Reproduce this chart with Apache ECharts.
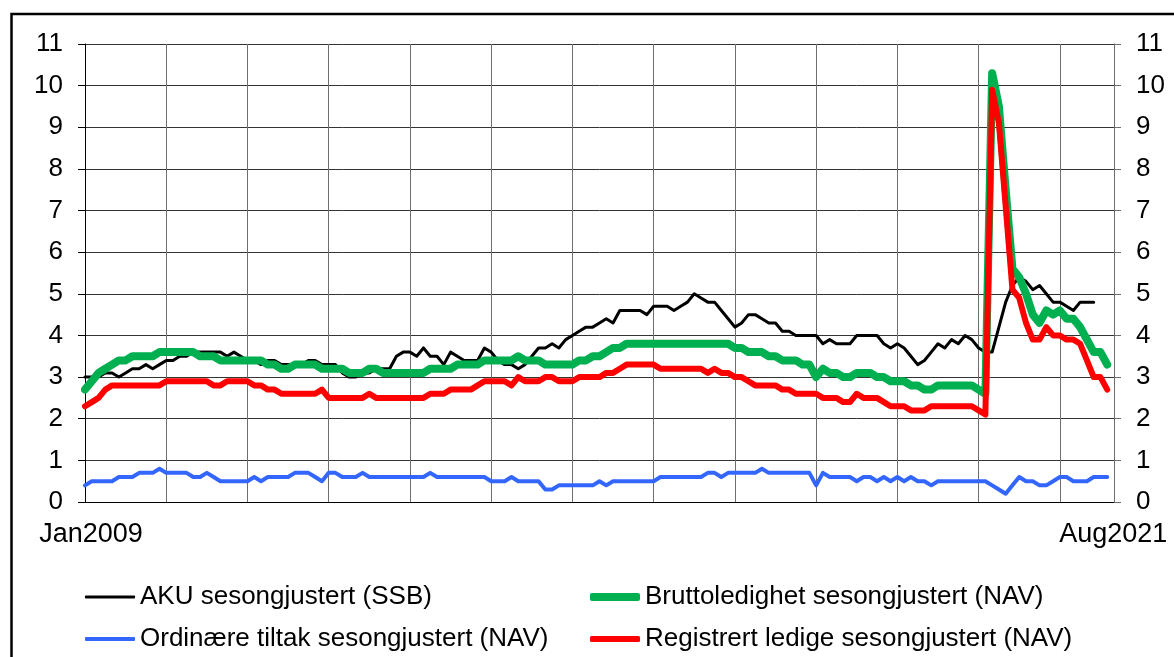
<!DOCTYPE html>
<html>
<head>
<meta charset="utf-8">
<script src="https://cdn.jsdelivr.net/npm/echarts@6/dist/echarts.min.js"></script>
<style>
  html, body { margin: 0; padding: 0; background: #fff; }
  #main { width: 1174px; height: 657px; }
</style>
</head>
<body>
<div id="main"></div>
<script>
// months Jan2009 .. Sep2021 (last slot only pads the axis)
const monthNames = ['Jan', 'Feb', 'Mar', 'Apr', 'May', 'Jun', 'Jul', 'Aug', 'Sep', 'Oct', 'Nov', 'Dec'];
const months = [];
for (let y = 2009; y <= 2021; y++) {
  for (let m = 0; m < 12; m++) {
    if (y === 2021 && m > 8) break;
    months.push(monthNames[m] + y);
  }
}
const shownLabels = ['Jan2009', 'Aug2021'];
const yTicks = [0, 1, 2, 3, 4, 5, 6, 7, 8, 9, 10, 11];

// AKU sesongjustert (SSB), Jan2009 - Jun2021
const aku = [
  3.0, 3.0, 3.0, 3.1, 3.1, 3.0, 3.1, 3.2, 3.2, 3.3, 3.2, 3.3,
  3.4, 3.4, 3.5, 3.5, 3.6, 3.6, 3.6, 3.6, 3.6, 3.5, 3.6, 3.5,
  3.4, 3.4, 3.3, 3.4, 3.4, 3.3, 3.3, 3.3, 3.3, 3.4, 3.4, 3.3,
  3.3, 3.3, 3.1, 3.0, 3.0, 3.1, 3.1, 3.2, 3.2, 3.2, 3.5, 3.6,
  3.6, 3.5, 3.7, 3.5, 3.5, 3.3, 3.6, 3.5, 3.4, 3.4, 3.4, 3.7,
  3.6, 3.4, 3.3, 3.3, 3.2, 3.3, 3.5, 3.7, 3.7, 3.8, 3.7, 3.9,
  4.0, 4.1, 4.2, 4.2, 4.3, 4.4, 4.3, 4.6, 4.6, 4.6, 4.6, 4.5,
  4.7, 4.7, 4.7, 4.6, 4.7, 4.8, 5.0, 4.9, 4.8, 4.8, 4.6, 4.4,
  4.2, 4.3, 4.5, 4.5, 4.4, 4.3, 4.3, 4.1, 4.1, 4.0, 4.0, 4.0,
  4.0, 3.8, 3.9, 3.8, 3.8, 3.8, 4.0, 4.0, 4.0, 4.0, 3.8, 3.7,
  3.8, 3.7, 3.5, 3.3, 3.4, 3.6, 3.8, 3.7, 3.9, 3.8, 4.0, 3.9,
  3.7, 3.6, 3.6, 4.2, 4.8, 5.2, 5.4, 5.3, 5.1, 5.2, 5.0, 4.8,
  4.8, 4.7, 4.6, 4.8, 4.8, 4.8
];

// Bruttoledighet sesongjustert (NAV), Jan2009 - Aug2021
const brutto = [
  2.7, 2.9, 3.1, 3.2, 3.3, 3.4, 3.4, 3.5, 3.5, 3.5, 3.5, 3.6,
  3.6, 3.6, 3.6, 3.6, 3.6, 3.5, 3.5, 3.5, 3.4, 3.4, 3.4, 3.4,
  3.4, 3.4, 3.4, 3.3, 3.3, 3.2, 3.2, 3.3, 3.3, 3.3, 3.3, 3.2,
  3.2, 3.2, 3.2, 3.1, 3.1, 3.1, 3.2, 3.2, 3.1, 3.1, 3.1, 3.1,
  3.1, 3.1, 3.1, 3.2, 3.2, 3.2, 3.2, 3.3, 3.3, 3.3, 3.3, 3.4,
  3.4, 3.4, 3.4, 3.4, 3.5, 3.4, 3.4, 3.4, 3.3, 3.3, 3.3, 3.3,
  3.3, 3.4, 3.4, 3.5, 3.5, 3.6, 3.7, 3.7, 3.8, 3.8, 3.8, 3.8,
  3.8, 3.8, 3.8, 3.8, 3.8, 3.8, 3.8, 3.8, 3.8, 3.8, 3.8, 3.8,
  3.7, 3.7, 3.6, 3.6, 3.6, 3.5, 3.5, 3.4, 3.4, 3.4, 3.3, 3.3,
  3.0, 3.2, 3.1, 3.1, 3.0, 3.0, 3.1, 3.1, 3.1, 3.0, 3.0, 2.9,
  2.9, 2.9, 2.8, 2.8, 2.7, 2.7, 2.8, 2.8, 2.8, 2.8, 2.8, 2.8,
  2.7, 2.6, 10.3, 9.5, 7.5, 5.6, 5.4, 5.0, 4.5, 4.3, 4.6, 4.5,
  4.6, 4.4, 4.4, 4.2, 3.9, 3.6, 3.6, 3.3
];

// Ordinære tiltak sesongjustert (NAV), Jan2009 - Aug2021
const tiltak = [
  0.4, 0.5, 0.5, 0.5, 0.5, 0.6, 0.6, 0.6, 0.7, 0.7, 0.7, 0.8,
  0.7, 0.7, 0.7, 0.7, 0.6, 0.6, 0.7, 0.6, 0.5, 0.5, 0.5, 0.5,
  0.5, 0.6, 0.5, 0.6, 0.6, 0.6, 0.6, 0.7, 0.7, 0.7, 0.6, 0.5,
  0.7, 0.7, 0.6, 0.6, 0.6, 0.7, 0.6, 0.6, 0.6, 0.6, 0.6, 0.6,
  0.6, 0.6, 0.6, 0.7, 0.6, 0.6, 0.6, 0.6, 0.6, 0.6, 0.6, 0.6,
  0.5, 0.5, 0.5, 0.6, 0.5, 0.5, 0.5, 0.5, 0.3, 0.3, 0.4, 0.4,
  0.4, 0.4, 0.4, 0.4, 0.5, 0.4, 0.5, 0.5, 0.5, 0.5, 0.5, 0.5,
  0.5, 0.6, 0.6, 0.6, 0.6, 0.6, 0.6, 0.6, 0.7, 0.7, 0.6, 0.7,
  0.7, 0.7, 0.7, 0.7, 0.8, 0.7, 0.7, 0.7, 0.7, 0.7, 0.7, 0.7,
  0.4, 0.7, 0.6, 0.6, 0.6, 0.6, 0.5, 0.6, 0.6, 0.5, 0.6, 0.5,
  0.6, 0.5, 0.6, 0.5, 0.5, 0.4, 0.5, 0.5, 0.5, 0.5, 0.5, 0.5,
  0.5, 0.5, 0.4, 0.3, 0.2, 0.4, 0.6, 0.5, 0.5, 0.4, 0.4, 0.5,
  0.6, 0.6, 0.5, 0.5, 0.5, 0.6, 0.6, 0.6
];

// Registrert ledige sesongjustert (NAV), Jan2009 - Aug2021
const registrert = [
  2.3, 2.4, 2.5, 2.7, 2.8, 2.8, 2.8, 2.8, 2.8, 2.8, 2.8, 2.8,
  2.9, 2.9, 2.9, 2.9, 2.9, 2.9, 2.9, 2.8, 2.8, 2.9, 2.9, 2.9,
  2.9, 2.8, 2.8, 2.7, 2.7, 2.6, 2.6, 2.6, 2.6, 2.6, 2.6, 2.7,
  2.5, 2.5, 2.5, 2.5, 2.5, 2.5, 2.6, 2.5, 2.5, 2.5, 2.5, 2.5,
  2.5, 2.5, 2.5, 2.6, 2.6, 2.6, 2.7, 2.7, 2.7, 2.7, 2.8, 2.9,
  2.9, 2.9, 2.9, 2.8, 3.0, 2.9, 2.9, 2.9, 3.0, 3.0, 2.9, 2.9,
  2.9, 3.0, 3.0, 3.0, 3.0, 3.1, 3.1, 3.2, 3.3, 3.3, 3.3, 3.3,
  3.3, 3.2, 3.2, 3.2, 3.2, 3.2, 3.2, 3.2, 3.1, 3.2, 3.1, 3.1,
  3.0, 3.0, 2.9, 2.8, 2.8, 2.8, 2.8, 2.7, 2.7, 2.6, 2.6, 2.6,
  2.6, 2.5, 2.5, 2.5, 2.4, 2.4, 2.6, 2.5, 2.5, 2.5, 2.4, 2.3,
  2.3, 2.3, 2.2, 2.2, 2.2, 2.3, 2.3, 2.3, 2.3, 2.3, 2.3, 2.3,
  2.2, 2.1, 9.9, 9.1, 7.1, 5.1, 4.9, 4.3, 3.9, 3.9, 4.2, 4.0,
  4.0, 3.9, 3.9, 3.8, 3.4, 3.0, 3.0, 2.7
];

const font = 'Liberation Sans, Arial, sans-serif';

var chartDom = document.getElementById('main');
var myChart = echarts.init(chartDom, null, { renderer: 'canvas' });

const legendText = { fontSize: 26, fontFamily: font, color: '#000' };

// one legend per entry so the 2x2 layout matches; icon height = line width
function oneLegend(name, left, top, thick) {
  return {
    data: [name],
    left: left,
    top: top,
    padding: 0,
    icon: 'roundRect',
    itemWidth: 50,
    itemHeight: thick,
    textStyle: legendText,
    selectedMode: false
  };
}

const option = {
  animation: false,
  backgroundColor: '#fff',
  grid: {
    left: 85,
    right: 60,
    top: 44,
    bottom: 155,
    containLabel: false,
    outerBoundsMode: 'none'
  },
  legend: [
    oneLegend('AKU sesongjustert (SSB)', 85, 584, 3),
    oneLegend('Bruttoledighet sesongjustert (NAV)', 590, 584, 8),
    oneLegend('Ordinære tiltak sesongjustert (NAV)', 85, 626, 4),
    oneLegend('Registrert ledige sesongjustert (NAV)', 590, 626, 6)
  ],
  xAxis: {
    type: 'category',
    data: months,
    boundaryGap: false,
    axisLine: { lineStyle: { color: '#000', width: 1 } },
    axisTick: { show: false },
    axisLabel: {
      interval: 0,
      formatter: v => (shownLabels.indexOf(v) >= 0 ? v : ''),
      color: '#000',
      fontSize: 27,
      fontFamily: font,
      margin: 19,
      padding: [0, 0, 0, 12]
    },
    splitLine: {
      show: true,
      interval: (idx) => idx % 12 === 0,
      lineStyle: { color: '#6e6e6e', width: 1 }
    }
  },
  yAxis: [
    {
      type: 'value',
      min: yTicks[0],
      max: yTicks[yTicks.length - 1],
      interval: 1,
      position: 'left',
      axisLine: { show: true, lineStyle: { color: '#000', width: 1 } },
      axisTick: { show: true, length: 7, lineStyle: { color: '#000' } },
      axisLabel: { color: '#000', fontSize: 26, fontFamily: font, margin: 22 },
      splitLine: { show: true, lineStyle: { color: '#333', width: 1 } }
    },
    {
      type: 'value',
      min: yTicks[0],
      max: yTicks[yTicks.length - 1],
      interval: 1,
      position: 'right',
      axisLine: { show: true, lineStyle: { color: '#6e6e6e', width: 1 } },
      axisTick: { show: true, length: 7, lineStyle: { color: '#6e6e6e' } },
      axisLabel: { color: '#000', fontSize: 26, fontFamily: font, margin: 22 },
      splitLine: { show: false }
    }
  ],
  graphic: [
    {
      type: 'rect',
      silent: true,
      shape: { x: 11.5, y: 14, width: 1400, height: 1000 },
      style: { fill: 'none', stroke: '#000', lineWidth: 2.5 }
    }
  ],
  series: [
    {
      name: 'AKU sesongjustert (SSB)',
      type: 'line',
      data: aku,
      symbol: 'none',
      lineStyle: { color: '#000', width: 3, join: 'round', cap: 'round' },
      itemStyle: { color: '#000' }
    },
    {
      name: 'Bruttoledighet sesongjustert (NAV)',
      type: 'line',
      data: brutto,
      symbol: 'none',
      lineStyle: { color: '#00b050', width: 8, join: 'round', cap: 'round' },
      itemStyle: { color: '#00b050' }
    },
    {
      name: 'Ordinære tiltak sesongjustert (NAV)',
      type: 'line',
      data: tiltak,
      symbol: 'none',
      lineStyle: { color: '#3366ff', width: 4, join: 'round', cap: 'round' },
      itemStyle: { color: '#3366ff' }
    },
    {
      name: 'Registrert ledige sesongjustert (NAV)',
      type: 'line',
      data: registrert,
      symbol: 'none',
      lineStyle: { color: '#ff0000', width: 6, join: 'round', cap: 'round' },
      itemStyle: { color: '#ff0000' }
    }
  ]
};

myChart.setOption(option);
</script>
</body>
</html>
